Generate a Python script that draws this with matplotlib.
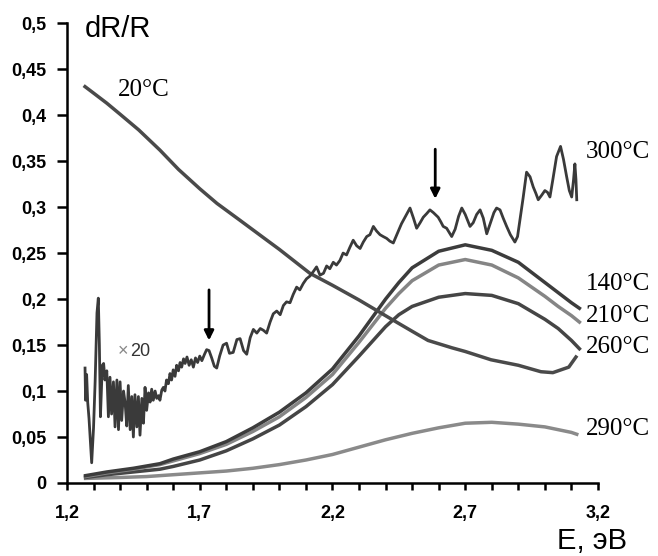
import numpy as np
import matplotlib.pyplot as plt

# photon energy (eV) and dR/R for each annealing temperature
e_20 = [1.268, 1.30, 1.35, 1.40, 1.47, 1.55, 1.62, 1.70, 1.765, 1.85, 1.953, 2.00, 2.115,
        2.20, 2.30, 2.417, 2.50, 2.56, 2.65, 2.70, 2.797, 2.90, 2.985, 3.03, 3.06, 3.09, 3.117]
r_20 = [0.431, 0.424, 0.413, 0.401, 0.384, 0.362, 0.341, 0.320, 0.304, 0.286, 0.264, 0.254, 0.228,
        0.215, 0.199, 0.179, 0.165, 0.155, 0.147, 0.143, 0.134, 0.128, 0.121, 0.120, 0.123, 0.126, 0.137]

e_300 = [1.268, 1.270, 1.274, 1.278, 1.283, 1.293, 1.300, 1.306, 1.313, 1.318, 1.322, 1.326, 1.333,
         1.338, 1.343, 1.350, 1.356, 1.362, 1.368, 1.375, 1.381, 1.388, 1.394, 1.400, 1.406, 1.413,
         1.419, 1.425, 1.431, 1.438, 1.444, 1.450, 1.456, 1.463, 1.469, 1.475, 1.482, 1.488, 1.494,
         1.500, 1.507, 1.513, 1.519, 1.525, 1.532, 1.538, 1.545, 1.550, 1.557, 1.563, 1.569, 1.575,
         1.582, 1.588, 1.594, 1.600, 1.607, 1.613, 1.620, 1.626, 1.632, 1.639, 1.645, 1.652, 1.660,
         1.668, 1.676, 1.684, 1.692, 1.700, 1.708, 1.718, 1.726, 1.735, 1.745, 1.755, 1.764, 1.775,
         1.788, 1.801, 1.812, 1.826, 1.840, 1.852, 1.865, 1.877, 1.890, 1.902, 1.915, 1.928, 1.940,
         1.952, 1.965, 1.977, 1.990, 2.003, 2.015, 2.027, 2.040, 2.052, 2.065, 2.077, 2.090, 2.102,
         2.115, 2.128, 2.140, 2.153, 2.166, 2.178, 2.190, 2.203, 2.215, 2.228, 2.240, 2.253, 2.265,
         2.278, 2.291, 2.304, 2.316, 2.329, 2.341, 2.354, 2.366, 2.379, 2.391, 2.404, 2.416, 2.429,
         2.442, 2.454, 2.460, 2.475, 2.492, 2.505, 2.517, 2.530, 2.542, 2.555, 2.567, 2.580, 2.598,
         2.608, 2.617, 2.630, 2.649, 2.662, 2.675, 2.687, 2.700, 2.718, 2.730, 2.743, 2.756, 2.768,
         2.781, 2.795, 2.808, 2.818, 2.831, 2.843, 2.856, 2.870, 2.887, 2.897, 2.906, 2.918, 2.931,
         2.944, 2.956, 2.966, 2.975, 2.988, 3.000, 3.010, 3.019, 3.030, 3.044, 3.059, 3.070, 3.082,
         3.092, 3.101, 3.108, 3.113, 3.117, 3.120]
r_300 = [0.125, 0.090, 0.118, 0.088, 0.070, 0.022, 0.060, 0.110, 0.185, 0.201, 0.150, 0.072, 0.128,
         0.130, 0.112, 0.122, 0.072, 0.115, 0.075, 0.110, 0.061, 0.112, 0.058, 0.110, 0.068, 0.100,
         0.087, 0.062, 0.106, 0.058, 0.094, 0.050, 0.096, 0.061, 0.094, 0.052, 0.092, 0.065, 0.104,
         0.079, 0.098, 0.088, 0.102, 0.090, 0.100, 0.092, 0.095, 0.090, 0.101, 0.104, 0.100, 0.112,
         0.108, 0.119, 0.112, 0.123, 0.116, 0.128, 0.122, 0.131, 0.126, 0.135, 0.130, 0.137, 0.128,
         0.134, 0.126, 0.136, 0.131, 0.138, 0.133, 0.140, 0.145, 0.144, 0.136, 0.127, 0.125, 0.138,
         0.150, 0.152, 0.141, 0.142, 0.156, 0.157, 0.144, 0.140, 0.158, 0.167, 0.163, 0.168, 0.166,
         0.163, 0.175, 0.184, 0.187, 0.183, 0.193, 0.197, 0.196, 0.205, 0.213, 0.210, 0.217, 0.222,
         0.225, 0.230, 0.235, 0.226, 0.228, 0.236, 0.233, 0.240, 0.237, 0.242, 0.250, 0.248, 0.256,
         0.264, 0.258, 0.255, 0.262, 0.268, 0.270, 0.279, 0.274, 0.270, 0.268, 0.266, 0.263, 0.261,
         0.270, 0.278, 0.282, 0.290, 0.299, 0.288, 0.277, 0.283, 0.289, 0.293, 0.297, 0.294, 0.289,
         0.284, 0.279, 0.277, 0.268, 0.276, 0.290, 0.299, 0.292, 0.279, 0.283, 0.292, 0.297, 0.288,
         0.271, 0.283, 0.294, 0.299, 0.297, 0.288, 0.279, 0.270, 0.262, 0.268, 0.286, 0.310, 0.338,
         0.333, 0.322, 0.315, 0.308, 0.313, 0.318, 0.316, 0.311, 0.330, 0.355, 0.366, 0.352, 0.333,
         0.318, 0.311, 0.330, 0.347, 0.330, 0.308]

e_arch = [1.27, 1.35, 1.45, 1.55, 1.60, 1.70, 1.80, 1.90, 2.00, 2.10, 2.20, 2.30, 2.40, 2.45,
          2.50, 2.60, 2.70, 2.80, 2.90, 3.00, 3.05, 3.10, 3.13]
r_140 = [0.008, 0.012, 0.016, 0.021, 0.026, 0.034, 0.045, 0.060, 0.077, 0.098, 0.124, 0.160, 0.200, 0.218,
         0.234, 0.252, 0.259, 0.253, 0.240, 0.218, 0.207, 0.196, 0.190]
r_210 = [0.007, 0.011, 0.015, 0.020, 0.024, 0.032, 0.042, 0.056, 0.072, 0.093, 0.118, 0.153, 0.190, 0.206,
         0.220, 0.237, 0.243, 0.237, 0.223, 0.203, 0.192, 0.182, 0.175]
r_260 = [0.006, 0.009, 0.012, 0.015, 0.018, 0.025, 0.035, 0.048, 0.063, 0.083, 0.107, 0.138, 0.170, 0.183,
         0.192, 0.202, 0.206, 0.204, 0.195, 0.178, 0.168, 0.155, 0.146]

e_290 = [1.27, 1.40, 1.50, 1.60, 1.70, 1.80, 1.90, 2.00, 2.10, 2.20, 2.30, 2.40, 2.50, 2.60,
         2.70, 2.80, 2.90, 3.00, 3.05, 3.10, 3.12]
r_290 = [0.005, 0.006, 0.007, 0.009, 0.011, 0.013, 0.016, 0.020, 0.025, 0.031, 0.039, 0.047, 0.054, 0.060,
         0.065, 0.066, 0.064, 0.061, 0.058, 0.055, 0.053]

curve_labels = ['300°C', '140°C', '210°C', '260°C', '290°C']
label_r = [0.360, 0.216, 0.182, 0.148, 0.059]

x_ticks = [1.2, 1.7, 2.2, 2.7, 3.2]
x_ticklabels = ['1,2', '1,7', '2,2', '2,7', '3,2']
y_ticks = [0, 0.05, 0.1, 0.15, 0.2, 0.25, 0.3, 0.35, 0.4, 0.45, 0.5]
y_ticklabels = ['0', '0,05', '0,1', '0,15', '0,2', '0,25', '0,3', '0,35', '0,4', '0,45', '0,5']

# arrows marking the features on the x20 curve
arrow_e = [1.735, 2.587]
arrow_top = [0.213, 0.366]
arrow_tip = [0.152, 0.306]

fig = plt.figure(figsize=(6.58, 5.56), dpi=100)
ax = fig.add_axes([0.1018, 0.1313, 0.807, 0.827])

ax.plot(e_290, r_290, color='#8a8a8a', lw=2.5)
ax.plot(e_arch, r_260, color='#454545', lw=2.5)
ax.plot(e_arch, r_210, color='#858585', lw=2.5)
ax.plot(e_arch, r_140, color='#3c3c3c', lw=2.5)
ax.plot(e_20, r_20, color='#4a4a4a', lw=2.5)
ax.plot(e_300, r_300, color='#3a3a3a', lw=2.0)

for e, top, tip in zip(arrow_e, arrow_top, arrow_tip):
    ax.annotate('', xy=(e, tip), xytext=(e, top),
                arrowprops=dict(arrowstyle='-|>', color='black', lw=2, mutation_scale=14))

for lab, r in zip(curve_labels, label_r):
    ax.text(3.155, r, lab, family='Liberation Serif', fontsize=18, va='center', ha='left')
ax.text(1.392, 0.427, '20°C', family='Liberation Serif', fontsize=18, va='center', ha='left')
ax.text(1.392, 0.143, '×', color='#888888', fontsize=13, va='center', ha='left',
        family='Liberation Sans')
ax.text(1.438, 0.143, '20', color='#333333', fontsize=13, va='center', ha='left',
        family='Liberation Sans')

ax.text(1.268, 0.494, 'dR/R', family='Liberation Sans', fontsize=21, va='center', ha='left')
fig.text(0.9, 0.027, 'E, эВ', family='Liberation Sans', fontsize=21, va='center', ha='center')

ax.set_xlim(1.2, 3.2)
ax.set_ylim(0, 0.5)
ax.set_xticks(x_ticks)
ax.set_xticklabels(x_ticklabels)
ax.set_xticks(np.arange(1.2, 3.25, 0.1), minor=True)
ax.set_yticks(y_ticks)
ax.set_yticklabels(y_ticklabels)
for lbl in ax.get_xticklabels() + ax.get_yticklabels():
    lbl.set_family('Liberation Sans')
    lbl.set_fontweight('bold')
    lbl.set_fontsize(13)
ax.tick_params(axis='y', length=7, width=1.8, pad=8)
ax.tick_params(axis='x', which='both', length=5, width=1.8, pad=11)

ax.spines['top'].set_visible(False)
ax.spines['right'].set_visible(False)
ax.spines['left'].set_linewidth(1.8)
ax.spines['bottom'].set_linewidth(1.8)

plt.savefig('out.png', dpi=100)
